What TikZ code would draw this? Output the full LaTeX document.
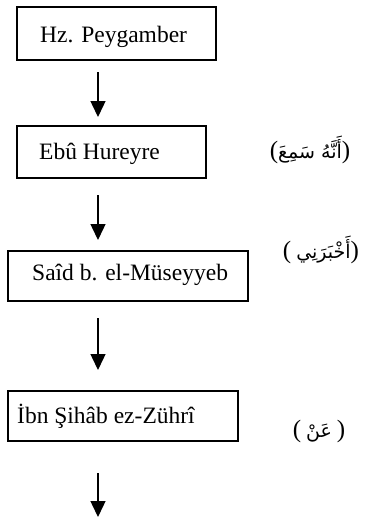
\documentclass[tikz,border=0pt]{standalone}
\usepackage{fontspec}
\setmainfont{Liberation Serif}
\newfontfamily\arabicfont[Script=Arabic]{DejaVu Sans}
\TeXXeTstate=1
\usetikzlibrary{arrows.meta}
\newcommand{\arabword}[1]{\hbox{\arabicfont\fontsize{19}{24}\selectfont\beginR #1\endR}}
\newcommand{\lpar}{\hbox{(}}
\newcommand{\rpar}{\hbox{)}}
\tikzset{
  boxstyle/.style={draw, line width=1.4pt, rectangle, inner sep=0pt},
  nametext/.style={anchor=base west, inner sep=0pt, font=\fontsize{23.5}{28}\selectfont},
  arabtext/.style={anchor=base, inner sep=0pt, font=\fontsize{25}{30}\selectfont},
  conn/.style={line width=1.4pt, -{Triangle[width=15pt,length=16pt]}}
}
\begin{document}
\begin{tikzpicture}[x=1pt,y=-1pt]
\useasboundingbox (0,0) rectangle (375,520);
% boxes
\node[boxstyle, minimum width=199pt, minimum height=53pt] (b1) at (116.5,33.5) {};
\node[boxstyle, minimum width=189pt, minimum height=52pt] (b2) at (111.5,152) {};
\node[boxstyle, minimum width=240pt, minimum height=50pt] (b3) at (128,276) {};
\node[boxstyle, minimum width=230pt, minimum height=50pt] (b4) at (123,416) {};
% texts
\node[nametext] (t1) at (40,42) {Hz. Peygamber};
\node[nametext] (t2) at (39,159) {Ebû Hureyre};
\node[nametext] (t3) at (32,280) {Saîd b. el-Müseyyeb};
\node[nametext] (t4) at (17,423) {İbn Şihâb ez-Zührî};
% arabic
\node[arabtext] (r1) at (310,158) {\lpar\arabword{أَنَّهُ سَمِعَ}\rpar};
\node[arabtext] (r2) at (321,258) {\lpar\hbox to 5pt{}\arabword{أَخْبَرَنِي}\rpar};
\node[arabtext] (r3) at (319,437) {\lpar\hbox to 5pt{}\arabword{عَنْ}\hbox to 5pt{}\rpar};
% connector ends
\coordinate (s1) at (98,72);  \coordinate (e1) at (98,117);
\coordinate (s2) at (98,195); \coordinate (e2) at (98,240);
\coordinate (s3) at (98,318); \coordinate (e3) at (98,370);
\coordinate (s4) at (98,473); \coordinate (e4) at (98,517);
\draw[conn] (s1) -- (e1);
\draw[conn] (s2) -- (e2);
\draw[conn] (s3) -- (e3);
\draw[conn] (s4) -- (e4);
\end{tikzpicture}
\end{document}
